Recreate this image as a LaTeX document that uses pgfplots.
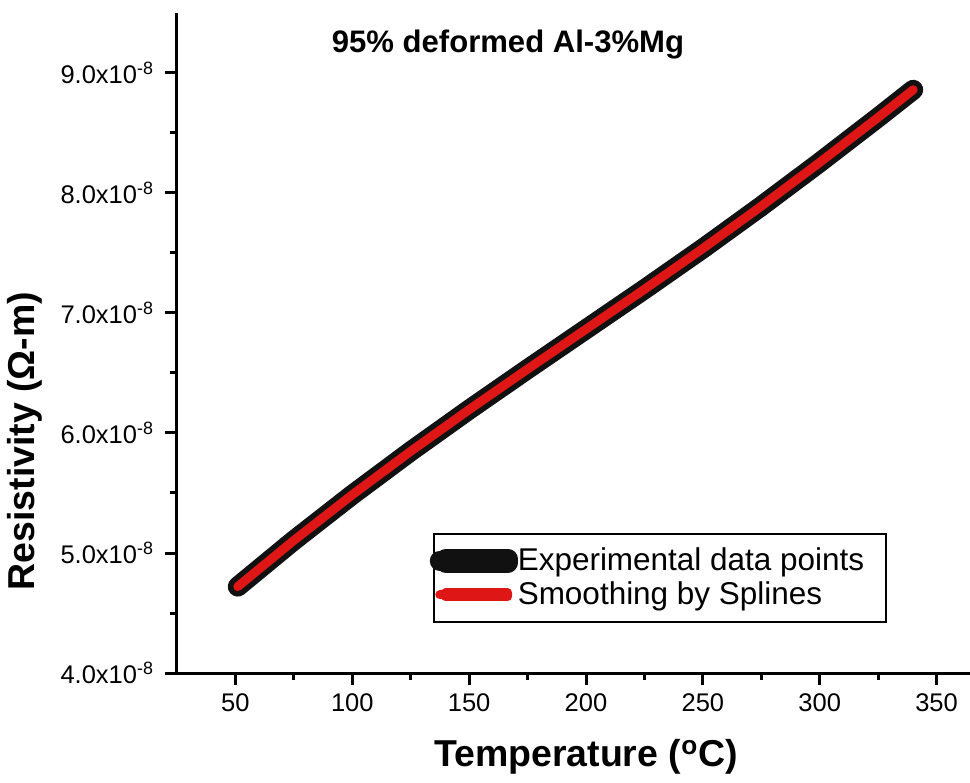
\documentclass[border=0pt]{standalone}
\usepackage{fontspec}
\setmainfont{Liberation Sans}
\usepackage{pgfplots}
\pgfplotsset{compat=1.18}
\definecolor{myred}{RGB}{222,22,22}
\definecolor{myblack}{RGB}{17,17,17}
\begin{document}
\begin{tikzpicture}
\begin{axis}[
  scale only axis,
  width=396.5bp, height=330bp,
  xmin=25, xmax=364.3,
  ymin=4e-8, ymax=9.5e-8,
  axis x line=bottom, axis y line=left,
  axis line style={line width=1.5bp, -},
  every tick/.style={line width=1.5bp, black},
  tick align=outside,
  major tick length=6bp, minor tick length=3.5bp,
  xtick={50,100,150,200,250,300,350},
  minor x tick num=1,
  ytick={4e-8,5e-8,6e-8,7e-8,8e-8,9e-8},
  yticklabels={4.0x10\textsuperscript{-8},5.0x10\textsuperscript{-8},6.0x10\textsuperscript{-8},7.0x10\textsuperscript{-8},8.0x10\textsuperscript{-8},9.0x10\textsuperscript{-8}},
  minor y tick num=1,
  scaled y ticks=false,
  /pgf/number format/assume math mode=true,
  tick label style={font=\fontsize{12.8}{15}\selectfont},
  yticklabel style={xshift=-2bp},
  xticklabel style={yshift=-1bp},
  xlabel={Temperature (\textsuperscript{o}C)},
  ylabel={Resistivity (Ω-m)},
  label style={font=\bfseries\fontsize{18.8}{21}\selectfont},
  xlabel style={at={(axis description cs:0.5158,-0.127)}, anchor=center},
  ylabel style={at={(axis description cs:-0.1917,0.3515)}, anchor=center, rotate=0},
  legend style={at={(axis description cs:0.3228,0.2121)}, anchor=north west,
    draw=black, line width=0.8bp, fill=none,
    font=\fontsize{15.8}{17.5}\selectfont,
    inner xsep=1bp, inner ysep=5bp, row sep=0.2bp,
    /tikz/every odd column/.append style={column sep=-2bp}},
  legend cell align=left,
  legend image code/.code={\draw[#1, overlay, line cap=round] (-3bp,0bp) -- (31bp,0bp); \path (0bp,-1bp) rectangle (31bp,1bp);},
]
\addplot[myblack, line width=10bp, line cap=round, line join=round] coordinates {
(51,4.72e-8) (75,5.105e-8) (100,5.485e-8) (125,5.8475e-8) (150,6.195e-8)
(175,6.5325e-8) (200,6.865e-8) (225,7.1975e-8) (250,7.5375e-8) (275,7.89e-8)
(300,8.255e-8) (325,8.63e-8) (340,8.86e-8)
};
\addlegendentry{Experimental data points\hspace*{8bp}}
\addplot[myred, line width=4.5bp, line cap=round, line join=round] coordinates {
(51,4.72e-8) (75,5.105e-8) (100,5.485e-8) (125,5.8475e-8) (150,6.195e-8)
(175,6.5325e-8) (200,6.865e-8) (225,7.1975e-8) (250,7.5375e-8) (275,7.89e-8)
(300,8.255e-8) (325,8.63e-8) (340,8.86e-8)
};
\addlegendentry{Smoothing by Splines}
\node[font=\bfseries\fontsize{15.6}{18}\selectfont] at (axis description cs:0.4174,0.9515) {95\% deformed Al-3\%Mg};
\end{axis}
\pgfresetboundingbox
\path (-88.5bp,-55bp) rectangle (396.5bp,336.5bp);
\end{tikzpicture}
\end{document}
